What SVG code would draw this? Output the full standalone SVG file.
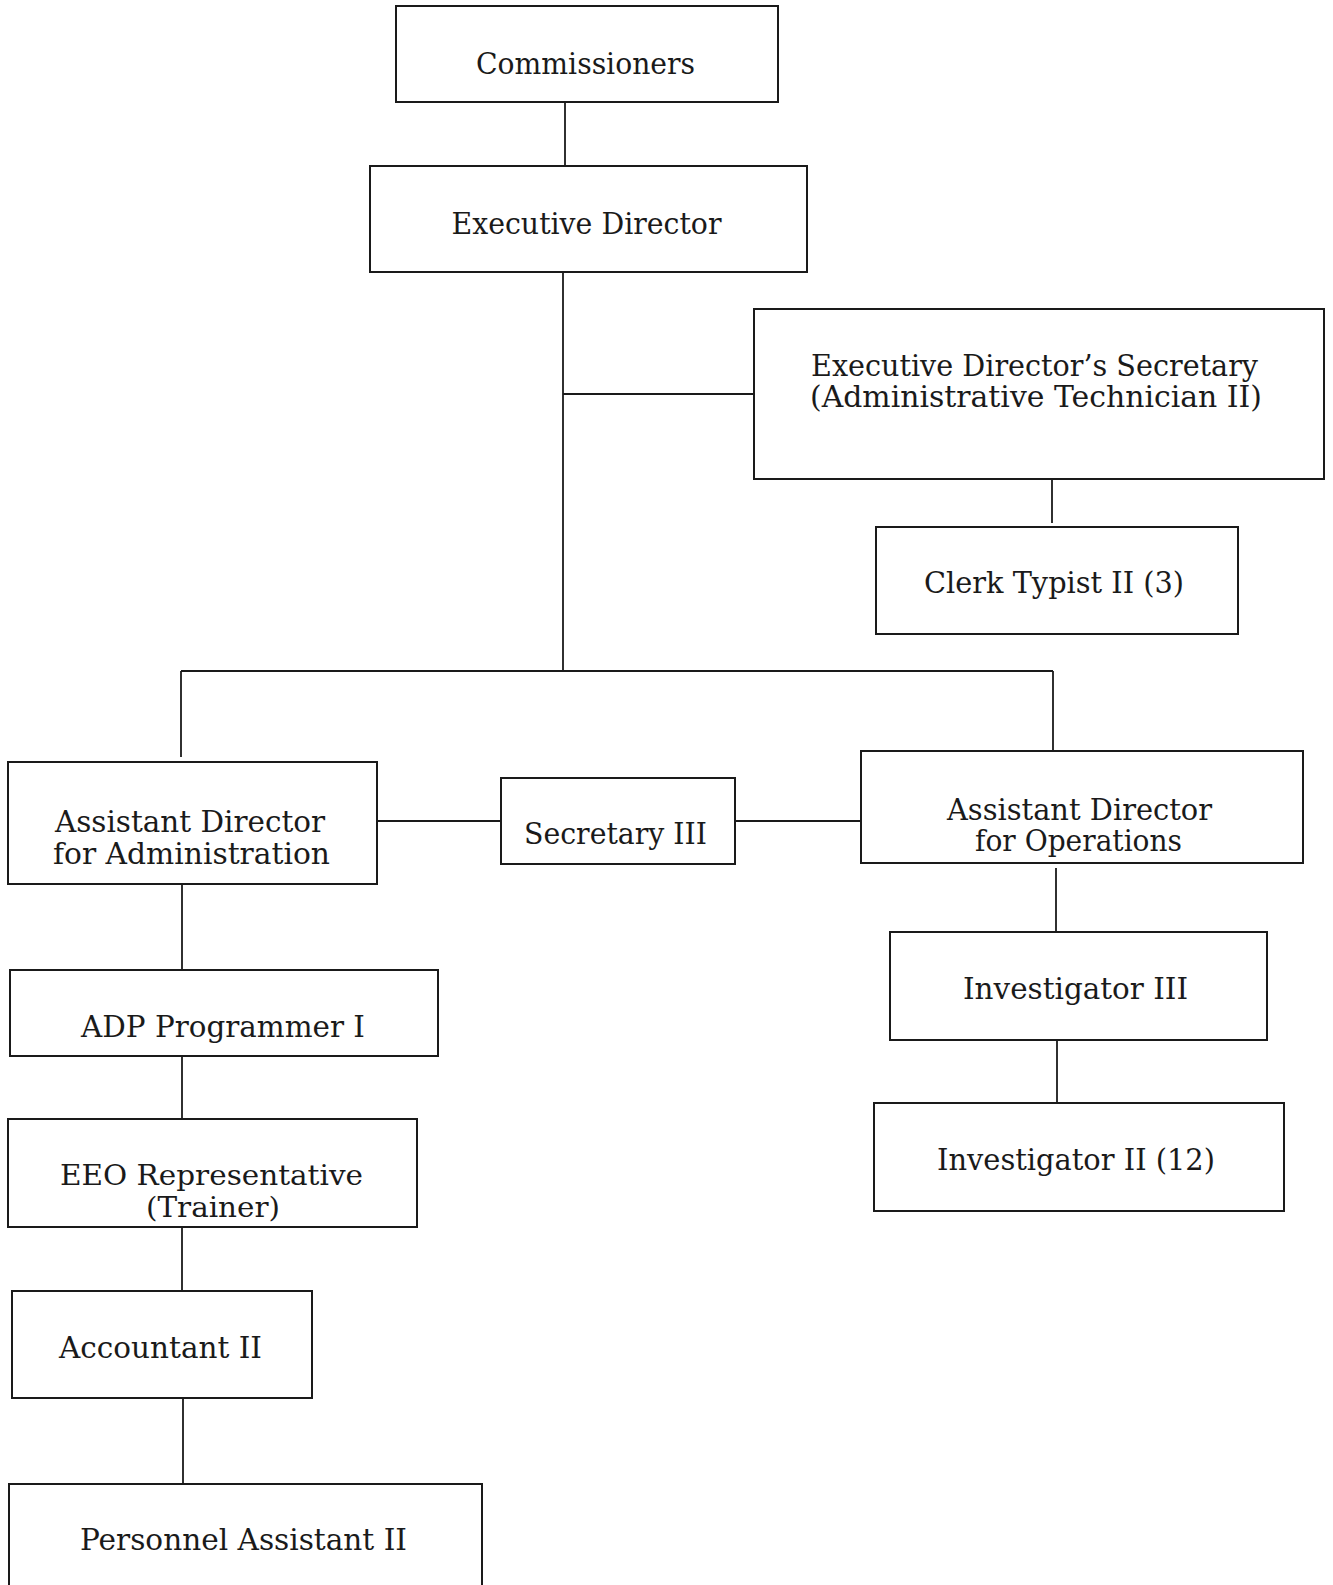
<svg xmlns="http://www.w3.org/2000/svg" width="1333" height="1585" viewBox="0 0 1333 1585">
<style>
.box{fill:#fff;stroke:#1a1a1a;stroke-width:2}
.ln{fill:none;stroke:#1a1a1a;stroke-width:1.8}
text{font-family:"DejaVu Serif","Liberation Serif",serif;font-size:29px;fill:#1a1a1a;text-anchor:middle}
.sm{font-size:28px}
</style>
<rect width="1333" height="1585" fill="#fff"/>
<g id="connectors">
<line class="ln" x1="565" y1="102" x2="565" y2="166"/>
<line class="ln" x1="563" y1="266" x2="563" y2="671"/>
<line class="ln" x1="563" y1="394" x2="754" y2="394"/>
<line class="ln" x1="1052" y1="479" x2="1052" y2="523"/>
<line class="ln" x1="181" y1="671" x2="1053" y2="671"/>
<line class="ln" x1="181" y1="671" x2="181" y2="757"/>
<line class="ln" x1="1053" y1="671" x2="1053" y2="758"/>
<line class="ln" x1="377" y1="821" x2="501" y2="821"/>
<line class="ln" x1="735" y1="821" x2="861" y2="821"/>
<line class="ln" x1="182" y1="884" x2="182" y2="970"/>
<line class="ln" x1="182" y1="1056" x2="182" y2="1119"/>
<line class="ln" x1="182" y1="1227" x2="182" y2="1291"/>
<line class="ln" x1="183" y1="1398" x2="183" y2="1484"/>
<line class="ln" x1="1056" y1="868" x2="1056" y2="932"/>
<line class="ln" x1="1057" y1="1040" x2="1057" y2="1103"/>
</g>
<g id="commissioners">
<rect class="box" x="396" y="6" width="382" height="96"/>
<text x="585.5" y="74" textLength="219" lengthAdjust="spacingAndGlyphs">Commissioners</text>
</g>
<g id="executive-director">
<rect class="box" x="370" y="166" width="437" height="106"/>
<text x="586.5" y="234" textLength="270" lengthAdjust="spacingAndGlyphs">Executive Director</text>
</g>
<g id="ed-secretary">
<rect class="box" x="754" y="309" width="570" height="170"/>
<text x="1034.5" y="376" textLength="447" lengthAdjust="spacingAndGlyphs">Executive Director’s Secretary</text>
<text x="1036" y="407" textLength="452" lengthAdjust="spacingAndGlyphs">(Administrative Technician II)</text>
</g>
<g id="clerk-typist">
<rect class="box" x="876" y="527" width="362" height="107"/>
<text x="1054" y="593" textLength="260" lengthAdjust="spacingAndGlyphs">Clerk Typist II (3)</text>
</g>
<g id="ad-administration">
<rect class="box" x="8" y="762" width="369" height="122"/>
<text x="190" y="832" textLength="270" lengthAdjust="spacingAndGlyphs">Assistant Director</text>
<text x="191.5" y="864" textLength="277" lengthAdjust="spacingAndGlyphs">for Administration</text>
</g>
<g id="secretary-iii">
<rect class="box" x="501" y="778" width="234" height="86"/>
<text x="615.5" y="844" textLength="183" lengthAdjust="spacingAndGlyphs">Secretary III</text>
</g>
<g id="ad-operations">
<rect class="box" x="861" y="751" width="442" height="112"/>
<text x="1079.5" y="820" textLength="265" lengthAdjust="spacingAndGlyphs">Assistant Director</text>
<text x="1078.5" y="851" textLength="207" lengthAdjust="spacingAndGlyphs">for Operations</text>
</g>
<g id="adp-programmer">
<rect class="box" x="10" y="970" width="428" height="86"/>
<text x="223" y="1037" textLength="284" lengthAdjust="spacingAndGlyphs">ADP Programmer I</text>
</g>
<g id="eeo-representative">
<rect class="box" x="8" y="1119" width="409" height="108"/>
<text class="sm" x="211.5" y="1185" textLength="303" lengthAdjust="spacingAndGlyphs">EEO Representative</text>
<text class="sm" x="213" y="1217" textLength="134" lengthAdjust="spacingAndGlyphs">(Trainer)</text>
</g>
<g id="accountant">
<rect class="box" x="12" y="1291" width="300" height="107"/>
<text x="160.5" y="1358" textLength="203" lengthAdjust="spacingAndGlyphs">Accountant II</text>
</g>
<g id="personnel-assistant">
<path class="box" d="M9,1600 V1484 H482 V1600"/>
<text x="243.5" y="1550" textLength="327" lengthAdjust="spacingAndGlyphs">Personnel Assistant II</text>
</g>
<g id="investigator-iii">
<rect class="box" x="890" y="932" width="377" height="108"/>
<text x="1075.5" y="999" textLength="225" lengthAdjust="spacingAndGlyphs">Investigator III</text>
</g>
<g id="investigator-ii">
<rect class="box" x="874" y="1103" width="410" height="108"/>
<text x="1076" y="1170" textLength="278" lengthAdjust="spacingAndGlyphs">Investigator II (12)</text>
</g>
</svg>
